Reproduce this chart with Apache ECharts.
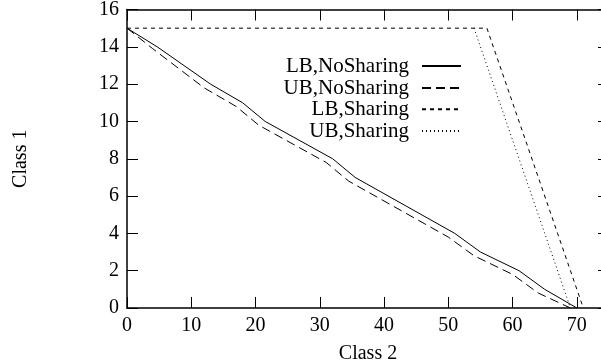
<!DOCTYPE html>
<html>
<head>
<meta charset="utf-8">
<script src="https://cdn.jsdelivr.net/npm/echarts@6/dist/echarts.min.js"></script>
<style>html,body{margin:0;padding:0;background:#fff}#c{width:601px;height:364px}</style>
</head>
<body>
<div id="c"></div>
<script>
// Data: [Class 2, Class 1]
var seriesNames = ['LB,NoSharing', 'UB,NoSharing', 'LB,Sharing', 'UB,Sharing'];
var lbNoSharing = [[0,15],[4.7,14],[13,12],[18,11],[21.5,10],[32,8],[35.5,7],[51,4],[55,3],[61,2],[65,1],[70,0]];
var ubNoSharing = [[0,15],[4,13.9],[12,11.8],[17,10.8],[20.5,9.8],[31,7.8],[34.5,6.8],[50,3.8],[54,2.8],[60,1.8],[64,0.8],[69,0]];
var lbSharing = [[0,15],[56,15],[71,0]];
var ubSharing = [[54,15],[69,0]];
var xTicks = [0,10,20,30,40,50,60,70];
var yTicks = [0,2,4,6,8,10,12,14,16];

var FONT = 'Liberation Serif';
var chart = echarts.init(document.getElementById('c'), null, {renderer: 'canvas'});
var dashes = ['solid', [9,5], [4,4], [1,3]];
var dataSets = [lbNoSharing, ubNoSharing, lbSharing, ubSharing];
var legendRows = [55.5, 77.5, 98.8, 120.5];

function mkAxis(type, pos, show, extra) {
  var a = {
    type: 'value', position: pos, min: 0,
    axisLine: {show: true, onZero: false, lineStyle: {color: '#000', width: 1.5}},
    axisTick: {show: true, inside: true, length: 11, lineStyle: {color: '#000', width: 1}},
    splitLine: {show: false},
    axisLabel: {show: show, color: '#000', fontFamily: FONT, fontSize: 20, showMaxLabel: type === 'x' ? false : true}
  };
  for (var k in extra) a[k] = extra[k];
  return a;
}

var option = {
  animation: false,
  backgroundColor: '#fff',
  grid: {left: 127, top: 9.5, width: 482, height: 298.5, containLabel: false, outerBoundsMode: 'none'},
  xAxis: [
    mkAxis('x', 'bottom', true, {max: 75, interval: 10, name: 'Class 2', nameLocation: 'middle', nameGap: 36,
      nameTextStyle: {color: '#000', fontFamily: FONT, fontSize: 20}}),
    mkAxis('x', 'top', false, {max: 75, interval: 10})
  ],
  yAxis: [
    mkAxis('y', 'left', true, {max: 16, interval: 2, name: 'Class 1', nameLocation: 'middle', nameGap: 96,
      nameTextStyle: {color: '#000', fontFamily: FONT, fontSize: 20}}),
    mkAxis('y', 'right', false, {max: 16, interval: 2})
  ],
  legend: seriesNames.map(function (n, i) {
    return {
      data: [n], right: 139, top: legendRows[i], padding: 0, align: 'right',
      itemWidth: 39, itemHeight: 10, selectedMode: false,
      itemStyle: {opacity: 0},
      textStyle: {color: '#000', fontFamily: FONT, fontSize: 21, padding: [0, 8, 0, 0]}
    };
  }),
  series: seriesNames.map(function (n, i) {
    return {
      name: n, type: 'line', data: dataSets[i], symbol: 'none', showSymbol: false,
      xAxisIndex: 0, yAxisIndex: 0,
      lineStyle: {color: '#000', width: 1, type: dashes[i]},
      itemStyle: {color: '#000'}
    };
  })
};
chart.setOption(option);
</script>
</body>
</html>
